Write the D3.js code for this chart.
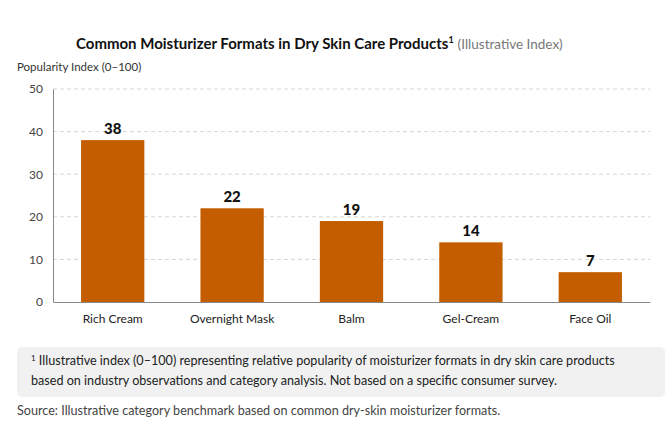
<!DOCTYPE html>
<html lang="en">
<head>
  <meta charset="utf-8">
  <title>Common Moisturizer Formats</title>
  <script src="https://cdnjs.cloudflare.com/ajax/libs/d3/7.8.5/d3.min.js"></script>
  <style>
    body { margin: 0; background: #fff; }
    svg { display: block; font-family: Lato, "Noto Sans", sans-serif; }
  </style>
</head>
<body>
  <div id="chart"></div>
  <script>
    const formats = ['Rich Cream', 'Overnight Mask', 'Balm', 'Gel-Cream', 'Face Oil'];
    const popularity = [38, 22, 19, 14, 7];
    const yTicks = [0, 10, 20, 30, 40, 50];

    const width = 672, height = 441;
    const plot = { left: 53, right: 650, top: 89, bottom: 302 };

    const svg = d3.select('#chart')
      .append('svg')
      .attr('width', width)
      .attr('height', height);

    // title
    const title = svg.append('text')
      .attr('x', 76)
      .attr('y', 49)
      .attr('fill', '#111');
    title.append('tspan')
      .attr('font-size', 15)
      .attr('font-weight', 700)
      .text('Common Moisturizer Formats in Dry Skin Care Products');
    title.append('tspan')
      .attr('font-size', 9)
      .attr('font-weight', 700)
      .attr('dy', -6)
      .text('1');
    title.append('tspan')
      .attr('font-size', 13.5)
      .attr('fill', '#777')
      .attr('dy', 6)
      .attr('dx', 4)
      .text('(Illustrative Index)');

    svg.append('text')
      .attr('x', 17)
      .attr('y', 71)
      .attr('font-size', 11.5)
      .attr('fill', '#333')
      .text('Popularity Index (0–100)');

    // scales
    const x = d3.scaleBand()
      .domain(formats)
      .range([plot.left, plot.right])
      .paddingInner(0.47)
      .paddingOuter(0.235);

    const y = d3.scaleLinear()
      .domain([0, 50])
      .range([plot.bottom, plot.top]);

    // grid
    svg.append('g')
      .selectAll('line')
      .data(yTicks.filter(t => t > 0))
      .join('line')
      .attr('x1', plot.left)
      .attr('x2', plot.right)
      .attr('y1', d => y(d))
      .attr('y2', d => y(d))
      .attr('stroke', '#d6d6d6')
      .attr('stroke-dasharray', '4,3');

    // y axis
    const yAxis = svg.append('g')
      .attr('transform', `translate(${plot.left},0)`)
      .call(d3.axisLeft(y).tickValues(yTicks).tickSize(0).tickPadding(10));
    yAxis.select('.domain').attr('stroke', '#888');
    yAxis.selectAll('text')
      .attr('font-family', 'Lato, "Noto Sans", sans-serif')
      .attr('font-size', 12)
      .attr('fill', '#444');

    // bars
    svg.append('g')
      .selectAll('rect')
      .data(formats)
      .join('rect')
      .attr('x', d => x(d))
      .attr('y', (d, i) => y(popularity[i]))
      .attr('width', x.bandwidth())
      .attr('height', (d, i) => y(0) - y(popularity[i]))
      .attr('fill', '#c45c00');

    // value labels
    svg.append('g')
      .selectAll('text')
      .data(formats)
      .join('text')
      .attr('x', d => x(d) + x.bandwidth() / 2)
      .attr('y', (d, i) => y(popularity[i]) - 6)
      .attr('text-anchor', 'middle')
      .attr('font-size', 15)
      .attr('font-weight', 900)
      .attr('fill', '#111')
      .text((d, i) => popularity[i]);

    // x axis
    const xAxis = svg.append('g')
      .attr('transform', `translate(0,${plot.bottom})`)
      .call(d3.axisBottom(x).tickSize(0).tickPadding(12));
    xAxis.select('.domain').attr('stroke', '#888').attr('stroke-width', 1.2);
    xAxis.selectAll('text')
      .attr('font-family', 'Lato, "Noto Sans", sans-serif')
      .attr('font-size', 12)
      .attr('fill', '#222');

    // footnote box
    svg.append('rect')
      .attr('x', 17)
      .attr('y', 347)
      .attr('width', 648)
      .attr('height', 50)
      .attr('rx', 5)
      .attr('fill', '#f1f1f1');

    const note = svg.append('text')
      .attr('font-size', 12.6)
      .attr('fill', '#222');
    note.append('tspan')
      .attr('x', 31)
      .attr('y', 365)
      .attr('font-size', 8)
      .attr('dy', -4)
      .text('1');
    note.append('tspan')
      .attr('dy', 4)
      .text(' Illustrative index (0–100) representing relative popularity of moisturizer formats in dry skin care products');
    note.append('tspan')
      .attr('x', 31)
      .attr('y', 385)
      .text('based on industry observations and category analysis. Not based on a specific consumer survey.');

    svg.append('text')
      .attr('x', 17)
      .attr('y', 415)
      .attr('font-size', 12.6)
      .attr('fill', '#444')
      .text('Source: Illustrative category benchmark based on common dry-skin moisturizer formats.');
  </script>
</body>
</html>
